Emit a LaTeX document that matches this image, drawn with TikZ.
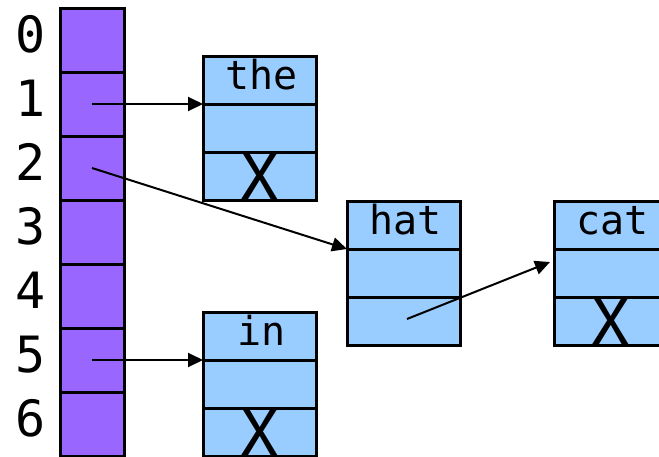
\documentclass[tikz,border=0pt]{standalone}
\usepackage{fontspec}
\newfontfamily\mono{DejaVu Sans Mono}
\usetikzlibrary{arrows.meta}
\definecolor{slotc}{HTML}{9966FF}
\definecolor{rowc}{HTML}{99CCFF}
\begin{document}
\begin{tikzpicture}[x=1pt,y=-1pt,
  slot/.style={draw=black, line width=3pt, fill=slotc, minimum width=64pt, minimum height=64pt, inner sep=0pt, outer sep=0pt},
  row/.style={draw=black, line width=3pt, fill=rowc, minimum width=113pt, minimum height=48pt, inner sep=0pt, outer sep=0pt},
  idx/.style={font=\mono\fontsize{50}{50}\selectfont, anchor=base, inner sep=0pt},
  word/.style={font=\mono\fontsize{40}{40}\selectfont, anchor=base, inner sep=0pt},
  nil/.style={font=\mono\fontsize{64}{64}\selectfont, anchor=base, inner sep=0pt},
  ptr/.style={line width=2pt, -{Triangle[length=15pt,width=14pt]}}]
\clip (0,0) rectangle (659,456);
\useasboundingbox (0,0) rectangle (659,456);
% array
\foreach \i in {0,...,6}{
  \pgfmathsetmacro{\yy}{40+64*\i}
  \node[slot] (a\i) at (92,\yy) {};
  \pgfmathsetmacro{\yb}{52+64*\i}
  \node[idx] (l\i) at (31,\yb) {\i};
}
% list nodes: name / centre x / top y / word
\foreach \nm/\cx/\ty/\w in {the/259.5/56.5/the, hat/403.5/201/hat, cat/610.5/201/cat, in/259.5/312.5/in}{
  \pgfmathsetmacro{\ya}{\ty+24}
  \pgfmathsetmacro{\yb}{\ty+72}
  \pgfmathsetmacro{\yc}{\ty+120}
  \node[row] (\nm A) at (\cx,\ya) {};
  \node[row] (\nm B) at (\cx,\yb) {};
  \node[row] (\nm C) at (\cx,\yc) {};
  \pgfmathsetmacro{\xt}{\cx+2}
  \pgfmathsetmacro{\yt}{\ty+33}
  \node[word] (\nm W) at (\xt,\yt) {\w};
}
% null markers
\node[nil] (theX) at (theC.south) {X};
\node[nil] (catX) at (catC.south) {X};
\node[nil] (inX) at (inC.south) {X};
% pointers
\coordinate (catIn) at (550,262);
\draw[ptr] (a1.center) -- (a1.center -| theB.west);
\draw[ptr] (a2.center) -- (hatB.north west);
\draw[ptr] ([shift={(3.5,-2)}]hatC.center) -- (catIn);
\draw[ptr] (a5.center) -- (a5.center -| inB.west);
\end{tikzpicture}
\end{document}
